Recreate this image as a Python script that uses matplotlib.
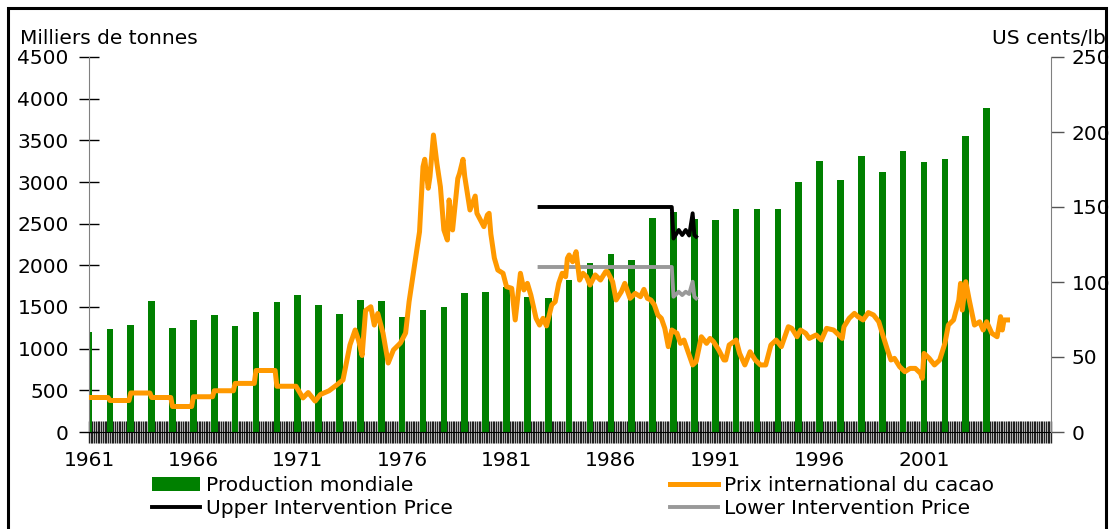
import numpy as np
import matplotlib
matplotlib.use('Agg')
import matplotlib.pyplot as plt
from matplotlib.patches import Rectangle

plt.rcParams['font.family'] = 'DejaVu Sans'
fs = 14.5

# Production mondiale (milliers de tonnes), une barre par an
years = list(range(1961, 2005))
production = [1200, 1240, 1280, 1570, 1250, 1350, 1400, 1270, 1440, 1560,
              1650, 1520, 1420, 1580, 1570, 1380, 1470, 1500, 1670, 1680,
              1740, 1620, 1610, 1820, 2030, 2140, 2060, 2570, 2640, 2560,
              2540, 2680, 2680, 2680, 3000, 3250, 3020, 3310, 3120, 3370,
              3240, 3270, 3550, 3890]

# Prix international du cacao (US cents/lb), mois depuis janvier 1961
price_m = [0, 11, 12, 23, 24, 35, 36, 47, 48, 59, 60, 71, 72, 83, 84, 95, 96, 107, 108, 119,
           123, 126, 130, 133, 138, 142, 146, 150, 153, 155, 157, 159, 162, 164, 166, 169,
           172, 175, 179, 182, 184, 187, 190, 192, 193, 195, 196, 198, 200, 202, 204, 206,
           207, 209, 212, 213, 215, 216, 219, 222, 223, 225, 227, 229, 230, 231, 233, 235,
           238, 240, 243, 245, 248, 250, 252, 254, 257, 259, 261, 263, 266, 268, 270, 272,
           274, 275, 276, 278, 280, 282, 284, 286, 288, 291, 294, 297, 298, 301, 303, 306,
           308, 311, 314, 317, 319, 321, 323, 325, 327, 329, 331, 333, 335, 338, 340, 342,
           344, 347, 349, 352, 355, 357, 359, 362, 365, 366, 368, 372, 374, 377, 380, 383,
           386, 389, 390, 392, 395, 398, 402, 404, 407, 409, 412, 414, 418, 421, 424, 428,
           433, 434, 437, 440, 442, 445, 448, 451, 454, 456, 459, 461, 463, 466, 469, 472,
           475, 478, 479, 480, 483, 486, 489, 492, 494, 497, 500, 501, 502, 504, 506, 509,
           512, 514, 516, 519, 522, 524, 525, 526, 528]
price = [23, 23, 21, 21, 26, 26, 23, 23, 17, 17, 23.5, 23.5, 27.5, 27.5, 32.4, 32.4, 41, 41, 30.5, 30.5,
         22.7, 26.3, 20.6, 25, 27.5, 31, 34.7, 58, 68, 61, 51, 81, 83.5, 71.3, 79, 66,
         46, 54.7, 59.3, 66, 86.9, 110, 133.5, 176.9, 181.8, 162.5, 170.2, 198, 179, 163.5, 134.7, 128,
         154.7, 134.7, 169, 172.4, 181.8, 170.2, 148, 157.3, 145.8, 141.3, 136.9, 144.7, 145.8, 132, 116, 108,
         105.8, 96.9, 95.8, 74.7, 105.8, 94.7, 99.1, 91.3, 75.8, 71.3, 75.8, 70.7, 84.7, 86.9, 99.1, 105.8,
         103.5, 115.8, 118, 113.5, 120.2, 101.3, 105.8, 103.5, 98, 104.7, 101.3, 106.9, 106.9, 100.2, 88, 93.5,
         99.1, 89.1, 92.4, 90.2, 95.1, 89.1, 88, 84.7, 78, 75.8, 69.1, 56.9, 68, 65.8, 59.1, 61.3,
         54.7, 44.7, 46.9, 63.5, 59.1, 62.4, 60.2, 54.7, 48, 48, 58, 61.3, 52.4, 44.7, 53.5, 48,
         44.7, 44.7, 49.1, 58, 61.3, 56.9, 70.2, 69.1, 63.5, 68, 65.8, 62.4, 64.7, 61.3, 69.1, 68,
         62.4, 70.2, 75.8, 79.1, 76.9, 74.7, 79.6, 78, 73.5, 65.8, 54.7, 48, 49.1, 43.5, 40.2, 42.4,
         42.4, 39.1, 35.8, 52.4, 49.1, 44.7, 48, 59.1, 71.3, 74.7, 88, 99.1, 81.3, 100.2, 88, 71.3,
         73.5, 68, 73.5, 65.8, 63.5, 76.9, 68, 74.7, 74.7]

# Prix d'intervention
interv_m = [259, 335, 336, 339, 341, 343, 345, 347, 348, 349]
upper = [150, 150, 129, 134.7, 131.3, 134.7, 131, 145.8, 131.3, 130.2]
lower = [110, 110, 90.2, 93.5, 91.3, 93.5, 92, 100.2, 90.2, 89.1]

tick_years = list(range(1961, 2002, 5))

bar_x = [(y - 1961) * 12 for y in years]
tick_x = [(y - 1961) * 12 for y in tick_years]

W, H = 1109, 529
fig = plt.figure(figsize=(W / 100, H / 100), dpi=100)
ax = fig.add_axes([89 / W, 1 - 432 / H, (1051 - 89) / W, (432 - 57) / H])

ax.bar(bar_x, production, width=3.8, color='#008000', zorder=2,
       label='Production mondiale')
ax.set_xlim(0, 553)
ax.set_ylim(0, 4500)
ax.set_yticks(range(0, 4501, 500))
ax.set_xticks(tick_x)
ax.set_xticklabels([str(y) for y in tick_years])
ax.set_xticks(range(0, 554), minor=True)

ax2 = ax.twinx()
l_price, = ax2.plot(price_m, price, color='#FF9900', lw=3.6, zorder=3,
                    solid_joinstyle='round', label='Prix international du cacao')
l_up, = ax2.plot(interv_m, upper, color='black', lw=2.8, zorder=2,
                 label='Upper Intervention Price')
l_low, = ax2.plot(interv_m, lower, color='#999999', lw=2.8, zorder=2,
                  label='Lower Intervention Price')
ax2.set_ylim(0, 250)
ax2.set_yticks(range(0, 251, 50))

for s in ['top', 'right']:
    ax.spines[s].set_visible(False)
for s in ['top', 'left', 'bottom']:
    ax2.spines[s].set_visible(False)
ax.spines['left'].set_color('#808080')
ax.spines['bottom'].set_color('black')
ax2.spines['right'].set_color('#808080')

ax.tick_params(axis='y', direction='inout', length=15, width=1, color='black',
               labelsize=fs, pad=7)
ax.tick_params(axis='x', which='both', direction='inout', length=16, width=1.0,
               color='#222222', labelsize=fs, pad=6)
ax2.tick_params(axis='y', direction='out', length=9, width=1, color='#555555',
                labelsize=fs, pad=6)

fig.text(20 / W, 1 - 38 / H, 'Milliers de tonnes', fontsize=fs, va='center', ha='left')
fig.text(1106 / W, 1 - 38 / H, 'US cents/lb', fontsize=fs, va='center', ha='right')

leg_kw = dict(frameon=False, fontsize=fs, borderpad=0, borderaxespad=0,
              handlelength=2.4, handleheight=0.75, handletextpad=0.3,
              labelspacing=0.22, loc='upper left')
fig.legend(handles=[ax.containers[0], l_up], bbox_to_anchor=(152 / W, 1 - 476 / H), **leg_kw)
fig.legend(handles=[l_price, l_low], bbox_to_anchor=(670 / W, 1 - 476 / H), **leg_kw)

fig.add_artist(Rectangle((8 / W, -0.02), (1106 - 8) / W, 1.02 - 8 / H,
                         transform=fig.transFigure, fill=False, lw=2.2, ec='black'))

fig.savefig('out.png', dpi=100)
